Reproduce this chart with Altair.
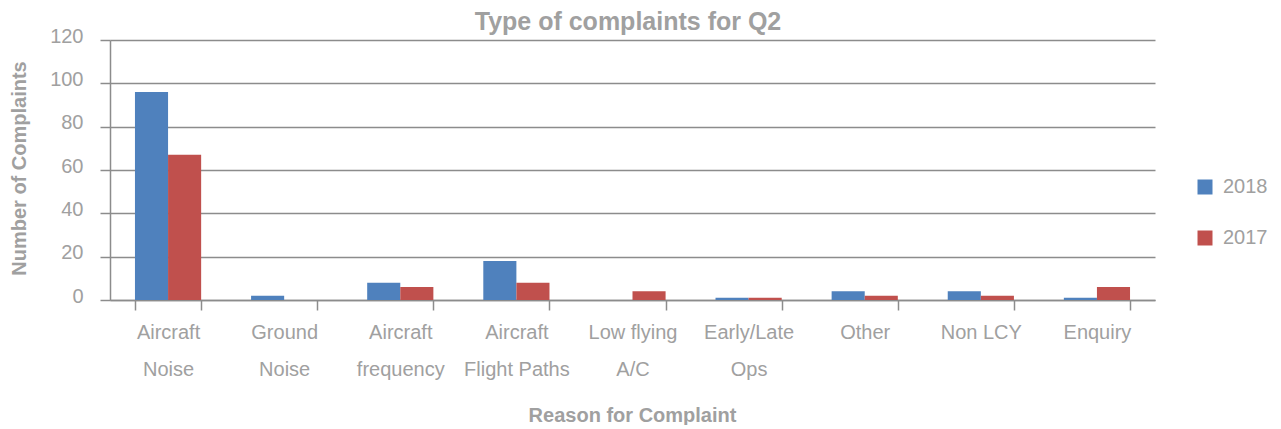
import altair as alt
import pandas as pd

title_text = ["Type of complaints for Q2"]
categories = ["Aircraft|Noise", "Ground|Noise", "Aircraft|frequency", "Aircraft|Flight Paths",
              "Low flying|A/C", "Early/Late|Ops", "Other", "Non LCY", "Enquiry"]
values_2018 = [96, 2, 8, 18, 0, 1, 4, 4, 1]
values_2017 = [67, 0, 6, 8, 4, 1, 2, 2, 6]
years = ["2018", "2017"]
colors = ["#4F81BD", "#C0504D"]
y_ticks = [0, 20, 40, 60, 80, 100, 120]

rows = []
for c, a, b in zip(categories, values_2018, values_2017):
    rows.append({"reason": c, "year": "2018", "count": a})
    rows.append({"reason": c, "year": "2017", "count": b})
df = pd.DataFrame(rows)

TEXT = "#A0A0A0"
LINE = "#8C8C8C"
FONT = "Liberation Sans"

bars = alt.Chart(df).mark_bar().encode(
    x=alt.X(
        "reason:N",
        sort=categories,
        scale=alt.Scale(paddingInner=0.43, paddingOuter=0.215),
        axis=alt.Axis(
            title="Reason for Complaint",
            titleFont=FONT, titleFontSize=20, titleFontWeight="bold", titleColor=TEXT,
            titleX=522, titleY=115, titleBaseline="middle", titleAlign="center",
            labelExpr="split(datum.label, '|')",
            labelFont=FONT, labelFontSize=20, labelColor=TEXT, labelAngle=0,
            labelLineHeight=37, labelPadding=12, labelBaseline="top",
            tickBand="extent", tickSize=10, tickColor=LINE, tickWidth=1.5,
            domainColor=LINE, domainWidth=1.5, grid=False,
        ),
    ),
    xOffset=alt.XOffset("year:N", sort=years),
    y=alt.Y(
        "count:Q",
        scale=alt.Scale(domain=[0, 120]),
        axis=alt.Axis(
            values=y_ticks,
            title="Number of Complaints",
            titleFont=FONT, titleFontSize=20, titleFontWeight="bold", titleColor=TEXT,
            titleX=-85, titleY=128, titleAngle=270, titleBaseline="alphabetic", titleAlign="center",
            labelFont=FONT, labelFontSize=20, labelColor=TEXT, labelPadding=17,
            labelOffset=-4,
            tickSize=10, tickColor=LINE, tickWidth=1.5,
            domainColor=LINE, domainWidth=1.5,
            grid=True, gridColor=LINE, gridWidth=1.5,
        ),
    ),
    color=alt.Color(
        "year:N",
        sort=years,
        scale=alt.Scale(domain=years, range=colors),
        legend=alt.Legend(
            title=None, orient="none", legendX=1085, legendY=137,
            symbolType="square", symbolSize=225, symbolStrokeWidth=0,
            labelFont=FONT, labelFontSize=20, labelColor=TEXT,
            rowPadding=31, labelOffset=8,
        ),
    ),
)

title = alt.Chart(pd.DataFrame({"t": title_text})).mark_text(
    font=FONT, fontSize=25, fontWeight="bold", color=TEXT,
    align="center", baseline="alphabetic",
).encode(text="t:N", x=alt.value(518), y=alt.value(-10))

chart = alt.layer(bars, title).properties(
    width=1045,
    height=260,
    autosize=alt.AutoSizeParams(type="none"),
    padding={"left": 102, "top": 32, "right": 118, "bottom": 125},
).configure_view(stroke=None)

chart.save("out.html", embed_options={"renderer": "svg", "actions": False})
